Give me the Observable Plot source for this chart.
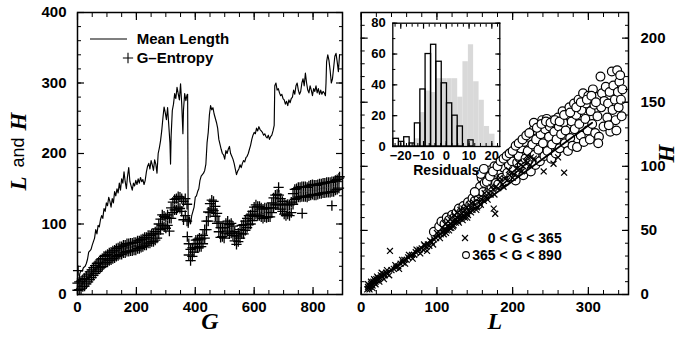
<!DOCTYPE html>
<html><head><meta charset="utf-8">
<script src="https://cdn.jsdelivr.net/npm/d3@7"></script>
<script src="https://cdn.jsdelivr.net/npm/@observablehq/plot@0.6"></script>
<style>
html,body{margin:0;padding:0;background:#fff;}
#wrap{position:relative;width:678px;height:339px;overflow:hidden;}
#wrap > svg{position:absolute;}
</style></head><body><div id="wrap"></div>
<script>
// ---------- Left panel: mean length L(G) ----------
const lenG = [0,4,8,12,16,20,26,30,34,38,42,46,50,54,58,62,66,70,74,78,82,86,90,94,98,102,106,110,114,118,122,126,130,134,138,142,146,150,154,158,162,166,170,174,178,182,186,190,194,198,202,206,210,214,218,222,226,230,234,238,242,246,250,254,258,262,266,270,274,278,282,286,290,294,298,302,306,310,314,316,318,322,326,330,334,338,342,346,350,354,358,360,364,368,372,374,376,380,384,388,392,396,400,404,408,412,416,420,424,428,432,436,440,444,448,452,456,460,464,468,472,476,480,484,488,492,496,500,504,508,512,516,520,524,528,532,536,540,544,548,552,556,560,564,568,572,576,580,584,588,592,596,600,604,608,612,616,620,624,628,632,636,640,644,648,652,656,660,664,668,670,674,678,682,686,690,694,698,702,706,710,714,718,722,726,730,734,738,742,746,750,754,758,762,766,770,774,778,782,786,790,794,798,802,806,810,814,818,822,826,830,834,838,842,844,846,850,854,858,862,866,870,874,878,882,886,890];
const lenV = [12,18,30,34,33,38,40,44,50,60,62,64,70,75,80,92,86,98,96,106,112,108,122,118,130,126,138,132,124,136,130,146,140,150,144,158,148,164,158,174,160,150,168,180,160,154,148,158,154,162,156,164,158,166,160,163,156,162,174,182,186,178,190,184,176,191,185,172,200,208,218,232,250,266,258,248,265,240,215,185,225,261,270,285,278,294,285,276,299,270,228,262,285,275,283,284,95,110,100,112,118,124,138,140,146,150,162,168,170,172,176,185,215,230,255,268,262,265,256,250,244,236,220,213,206,200,198,192,204,200,206,210,200,196,192,186,178,170,175,178,184,180,186,190,188,194,196,200,206,212,220,226,230,228,236,232,238,234,232,230,226,228,224,222,226,220,224,226,232,240,296,300,290,292,286,282,284,278,276,270,274,268,276,272,278,280,290,284,296,300,290,284,288,300,306,296,314,300,290,286,296,290,282,292,288,296,286,292,284,290,284,288,286,282,300,330,340,332,318,300,306,322,338,342,330,316,340];

// ---------- Left panel: G-entropy H(G), lower and upper edge of the band of markers ----------
const entG = [0,6,12,18,24,30,36,42,48,54,60,66,72,78,84,90,96,102,108,114,120,126,132,138,144,150,156,162,168,174,180,186,192,198,204,210,216,222,228,234,240,246,252,258,264,270,276,282,288,294,300,306,312,318,324,330,336,342,348,354,360,366,372,378,384,390,396,402,408,414,420,426,432,438,444,450,456,462,468,474,480,486,492,498,504,510,516,522,528,534,540,546,552,558,564,570,576,582,588,594,600,606,612,618,624,630,636,642,648,654,660,666,672,678,684,690,696,702,708,714,720,726,732,738,744,750,756,762,768,774,780,786,792,798,804,810,816,822,828,834,840,846,852,858,864,870,876,882,888];
const entLo = [6,7,8,11,12,15,18,21,24,27,30,33,36,38,40,43,45,46,48,49,51,52,54,55,57,57,59,59,61,61,62,62,63,63,65,65,67,68,70,70,73,73,75,75,77,80,86,92,98,96,94,98,90,108,116,120,120,124,122,118,106,112,104,56,48,54,60,66,66,68,68,72,80,92,104,116,121,119,111,101,89,81,82,80,87,90,86,87,84,76,71,75,80,86,86,91,95,99,100,105,111,114,112,112,110,108,110,109,110,110,116,123,127,128,127,121,118,114,112,114,112,116,128,135,136,138,138,139,139,139,138,140,141,142,141,141,142,143,143,144,144,145,145,145,146,146,148,149,151];
const entHi = [16,18,19,21,23,26,29,32,35,38,41,44,46,49,51,54,55,57,59,60,62,63,65,66,68,68,70,70,72,72,73,73,74,74,76,76,78,79,81,81,84,84,86,86,89,93,100,107,113,111,109,113,108,123,131,135,136,139,138,136,132,136,128,72,64,66,72,77,78,80,79,84,92,104,117,129,134,132,125,115,103,95,95,95,101,104,99,101,97,89,83,87,92,98,99,104,108,112,113,118,124,127,125,125,123,121,123,122,123,123,130,137,141,142,141,136,132,128,127,128,127,131,143,149,150,152,152,153,153,153,152,154,155,156,155,155,156,157,157,158,158,159,159,159,160,160,162,163,165];
const entOutG = [2,373,683,763,864,890];
const entOutH = [34,82,152,115,126,167];

// ---------- Right panel: H vs L ----------
const crossL = [8,9,10,11,12,13,14,15,16,17,18,19,20,21,22,23,25,26,28,29,31,33,35,38,40,43,46,49,52,55,57,60,62,65,67,70,72,75,77,80,82,84,86,88,90,93,96,99,102,105,108,110,112,114,116,118,119,121,122,124,125,127,128,130,131,133,134,136,137,139,140,142,144,147,150,153,156,159,162,165,168,171,174,175,177,178,181,184,187,190,193,196,199,202,205,208,211,214,217,220,224,228,241,254,260,268,
  9,11,13,15,17,19,21,24,27,30,34,37,45,50,54,58,63,68,73,78,83,87,91,95,100,104,107,109,111,113,115,117,119,121,123,125,127,129,131,133,135,137,139,141,143,145,148,152,155,158,163,167,172,176,183,188,195,200,207,212,219,223];
const crossH = [4,6,5,7,6,8,9,7,10,9,11,10,12,11,13,12,13,15,14,16,15,17,16,34,19,20,21,22,24,25,27,27,29,30,31,31,33,34,35,36,35,38,37,39,38,41,43,44,46,47,49,51,48,53,50,55,52,57,54,59,56,60,57,62,59,63,58,61,66,63,60,65,68,66,70,68,72,74,73,76,79,78,82,67,63,84,83,88,86,90,89,93,95,94,98,97,101,100,104,103,107,106,96,102,107,95,
  8,4,10,5,12,8,14,10,17,12,19,15,23,20,27,24,31,28,35,32,39,34,42,39,48,44,52,47,55,50,57,52,60,53,62,58,64,56,66,61,67,60,68,62,70,64,72,66,75,70,79,74,84,78,91,84,97,91,103,96,108,101];
const circL = [96,103,106,110,113,116,120,123,126,129,132,135,138,141,144,147,150,153,155,157,159,161,163,165,167,169,171,172,174,176,178,179,181,183,185,186,188,190,191,193,195,196,198,199,201,203,204,206,208,209,211,212,214,215,217,218,220,221,223,224,226,227,229,230,231,233,234,236,237,239,240,242,243,245,246,248,249,251,252,254,255,257,258,260,261,262,264,266,267,269,270,272,273,275,276,278,279,281,282,284,285,287,288,290,291,293,294,296,297,299,300,302,303,305,306,308,309,311,312,314,316,317,318,320,321,323,325,326,328,329,331,332,333,335,336,338,339,340,341,342,343,344,345,337,327,313,
  150,154,158,162,166,170,174,180,184,188,192,196,200,204,208,213,218,222,228,232,238,244,250,256,262,268,276,284,290,298,304,310];
const circH = [49,53,57,55,60,58,62,60,64,67,64,69,67,72,70,75,73,78,74,84,91,80,87,94,79,89,97,84,92,100,87,95,86,97,104,91,99,88,106,95,101,110,92,104,97,112,89,103,108,96,114,101,93,119,106,98,112,123,104,96,117,128,109,101,121,132,113,104,125,136,118,108,129,137,112,123,131,106,117,136,127,110,121,138,131,114,125,143,134,118,128,140,112,146,122,135,116,149,129,140,115,152,133,124,144,157,119,137,149,128,155,121,143,133,160,148,126,154,139,123,170,146,157,131,151,162,138,149,158,127,174,144,163,152,136,175,158,146,166,171,152,139,160,128,132,118,
  80,70,94,98,88,92,96,100,104,106,108,110,112,116,118,121,124,126,134,130,133,135,134,136,135,140,142,146,150,152,155,150];
const fitL = [8, 305];
const fitH = [5.7, 134];

// ---------- Inset: residual histograms ----------
const binEdges = [-23.2,-20.8,-18.5,-16.1,-13.8,-11.4,-9.1,-6.7,-4.4,-2.0,0.3,2.6,5.0,7.3,9.7,12.0,14.4,16.7,19.0,21.4];
const countsEarly = [5,3,6,2,15,37,60,66,55,41,28,20,13,0,4,0,0,0,0];
const countsLate  = [0,0,0,2,5,22,36,35,44,44,44,44,32,55,66,42,30,13,8];

// ---------- Tick labels ----------
const leftXTicks = [0,200,400,600,800];
const leftYTicks = [0,100,200,300,400];
const rightXTicks = [0,100,200,300];
const rightYTicks = [0,50,100,150,200];
const insetXTicks = [-20,-10,0,10,20];
const insetYTicks = [0,20,40,60,80];

// ---------- helpers ----------
const SANS = "Liberation Sans, Arial, sans-serif";
const SERIF = "Liberation Serif, Times New Roman, serif";
// inward tick marks on all four frame sides, drawn by Plot axis marks (negative tick size)
function frameTicks(xMaj, xMin, yMaj, yMin, maj, min) {
  const m = [];
  for (const a of ["top","bottom"]) {
    m.push(Plot.axisX({anchor:a, ticks:xMin, tickSize:-min, tickFormat:() => "", label:null, stroke:"black", strokeWidth:1}));
    m.push(Plot.axisX({anchor:a, ticks:xMaj, tickSize:-maj, tickFormat:() => "", label:null, stroke:"black", strokeWidth:1.2}));
  }
  for (const a of ["left","right"]) {
    m.push(Plot.axisY({anchor:a, ticks:yMin, tickSize:-min, tickFormat:() => "", label:null, stroke:"black", strokeWidth:1}));
    m.push(Plot.axisY({anchor:a, ticks:yMaj, tickSize:-maj, tickFormat:() => "", label:null, stroke:"black", strokeWidth:1.2}));
  }
  return m;
}
const svgStyle = {fontFamily:SANS, fontSize:"15px", fontWeight:"bold", background:"transparent", overflow:"visible", color:"black"};
const titleStyle = {fontFamily:SERIF, fontStyle:"italic", fontWeight:"bold", fontSize:23, textAnchor:"middle"};
const wrap = document.getElementById("wrap");

// ---------- Left plot ----------
const lenData = lenG.map((g,i) => ({g, v: lenV[i]}));
const entData = entG.map((g,i) => ({g, v: entLo[i]}))
  .concat(entG.map((g,i) => ({g, v: entHi[i]})))
  .concat(entOutG.map((g,i)=>({g, v: entOutH[i]})));
const left = Plot.plot({
  width: 345, height: 339,
  marginLeft: 77, marginRight: 3, marginTop: 12, marginBottom: 45,
  x: {domain:[0,900]}, y: {domain:[0,400]},
  style: svgStyle,
  marks: [
    Plot.line(lenData, {x:"g", y:"v", stroke:"black", strokeWidth:1.15}),
    Plot.dot(entData, {x:"g", y:"v", symbol:"plus", r:3.4, stroke:"black", strokeWidth:1.3}),
    ...frameTicks(leftXTicks, d3.range(0,901,50), leftYTicks, d3.range(0,401,20), 7, 4),
    Plot.axisX({anchor:"bottom", ticks:leftXTicks, tickSize:0, tickPadding:7, label:null, fontSize:15, fontWeight:"bold"}),
    Plot.axisY({anchor:"left", ticks:leftYTicks, tickSize:0, tickPadding:11, label:null, fontSize:15, fontWeight:"bold"}),
    Plot.frame({stroke:"black", strokeWidth:1.5}),
    Plot.text(["G"], {text:d=>d, frameAnchor:"bottom", dy:34, ...titleStyle, fontSize:24}),
    Plot.text(["H"], {text:d=>d, frameAnchor:"left", dx:-59, dy:-32, rotate:-90, ...titleStyle}),
    Plot.text(["and"], {text:d=>d, frameAnchor:"left", dx:-59, dy:-1, rotate:-90, fontFamily:SANS, fontWeight:"normal", fontSize:18, textAnchor:"middle"}),
    Plot.text(["L"], {text:d=>d, frameAnchor:"left", dx:-59, dy:30, rotate:-90, ...titleStyle})
  ]
});
left.style.left = "0px"; left.style.top = "0px";
wrap.appendChild(left);

// ---------- Right plot ----------
const crossData = crossL.map((l,i)=>({l, h: crossH[i]}));
const circData = circL.map((l,i)=>({l, h: circH[i]}));
const fitData = fitL.map((l,i)=>({l, h: fitH[i]}));
const right = Plot.plot({
  width: 334, height: 339,
  marginLeft: 16.7, marginRight: 50, marginTop: 12, marginBottom: 45,
  x: {domain:[0,353]}, y: {domain:[0,220]},
  style: svgStyle,
  marks: [
    Plot.dot(circData, {x:"l", y:"h", r:4.4, fill:"white", stroke:"black", strokeWidth:1.2}),
    Plot.dot(crossData, {x:"l", y:"h", symbol:"times", r:2.8, stroke:"black", strokeWidth:1.2}),
    Plot.line(fitData, {x:"l", y:"h", stroke:"black", strokeWidth:1.8}),
    ...frameTicks(rightXTicks, d3.range(0,353,20), rightYTicks, d3.range(0,221,10), 7, 4),
    Plot.axisX({anchor:"bottom", ticks:rightXTicks, tickSize:0, tickPadding:7, label:null, fontSize:15, fontWeight:"bold"}),
    Plot.axisY({anchor:"right", ticks:rightYTicks, tickSize:0, tickPadding:12, label:null, fontSize:15, fontWeight:"bold"}),
    Plot.frame({stroke:"black", strokeWidth:1.5}),
    Plot.text(["L"], {text:d=>d, frameAnchor:"bottom", dy:34, ...titleStyle, fontSize:24}),
    Plot.text(["H"], {text:d=>d, frameAnchor:"right", dx:38, rotate:-90, ...titleStyle})
  ]
});
right.style.left = "344px"; right.style.top = "0px";
wrap.appendChild(right);

// ---------- Inset ----------
const binsEarly = countsEarly.map((n,i)=>({lo: binEdges[i], hi: binEdges[i+1], n})).filter(d=>d.n>0);
const binsLate = countsLate.map((n,i)=>({lo: binEdges[i], hi: binEdges[i+1], n})).filter(d=>d.n>0);
const inset = Plot.plot({
  width: 152, height: 170,
  marginLeft: 40.3, marginRight: 4.7, marginTop: 10.7, marginBottom: 36,
  x: {domain:[-23.5,23.5]}, y: {domain:[0,80]},
  style: {...svgStyle, fontSize:"13px"},
  marks: [
    Plot.frame({fill:"white"}),
    Plot.rectY(binsLate, {x1:"lo", x2:"hi", y:"n", fill:"#d9d9d9"}),
    Plot.rectY(binsEarly, {x1:"lo", x2:"hi", y:"n", fill:"none", stroke:"black", strokeWidth:1.3}),
    ...frameTicks(insetXTicks, d3.range(-22.5,23,2.5), insetYTicks, d3.range(0,81,10), 5, 3),
    Plot.axisX({anchor:"bottom", ticks:insetXTicks, tickSize:0, tickPadding:4, label:null, fontSize:13, fontWeight:"bold"}),
    Plot.axisY({anchor:"left", ticks:insetYTicks, tickSize:0, tickPadding:7, label:null, fontSize:13, fontWeight:"bold"}),
    Plot.frame({stroke:"black", strokeWidth:1.3}),
    Plot.text(["Residuals"], {text:d=>d, frameAnchor:"bottom", dy:28, fontSize:14, fontWeight:"bold", fontFamily:SANS})
  ]
});
inset.style.left = "352px"; inset.style.top = "12px";
wrap.appendChild(inset);

// ---------- Legends ----------
const leg = d3.create("svg").attr("width",678).attr("height",339)
  .style("left","0px").style("top","0px").style("pointer-events","none")
  .style("font-family", SANS).style("font-weight","bold");
leg.append("line").attr("x1",90).attr("x2",127).attr("y1",39).attr("y2",39).attr("stroke","black").attr("stroke-width",1.1);
leg.append("text").attr("x",136.7).attr("y",44.4).attr("font-size",15).text("Mean Length");
leg.append("path").attr("d", d3.symbol(d3.symbolPlus, Math.PI*3.4*3.4)()).attr("transform","translate(128,58)").attr("fill","none").attr("stroke","black").attr("stroke-width",1.1);
leg.append("text").attr("x",136.7).attr("y",63.4).attr("font-size",15).text("G\u2013Entropy");
leg.append("path").attr("d", d3.symbol(d3.symbolTimes, Math.PI*2.8*2.8)()).attr("transform","translate(465,238)").attr("fill","none").attr("stroke","black").attr("stroke-width",1.2);
leg.append("text").attr("x",561.7).attr("y",242.8).attr("font-size",14).attr("text-anchor","end").text("0 < G < 365");
leg.append("circle").attr("cx",466).attr("cy",255).attr("r",3.4).attr("fill","white").attr("stroke","black").attr("stroke-width",1.1);
leg.append("text").attr("x",561.7).attr("y",260).attr("font-size",14).attr("text-anchor","end").text("365 < G < 890");
wrap.appendChild(leg.node());
</script></body></html>
